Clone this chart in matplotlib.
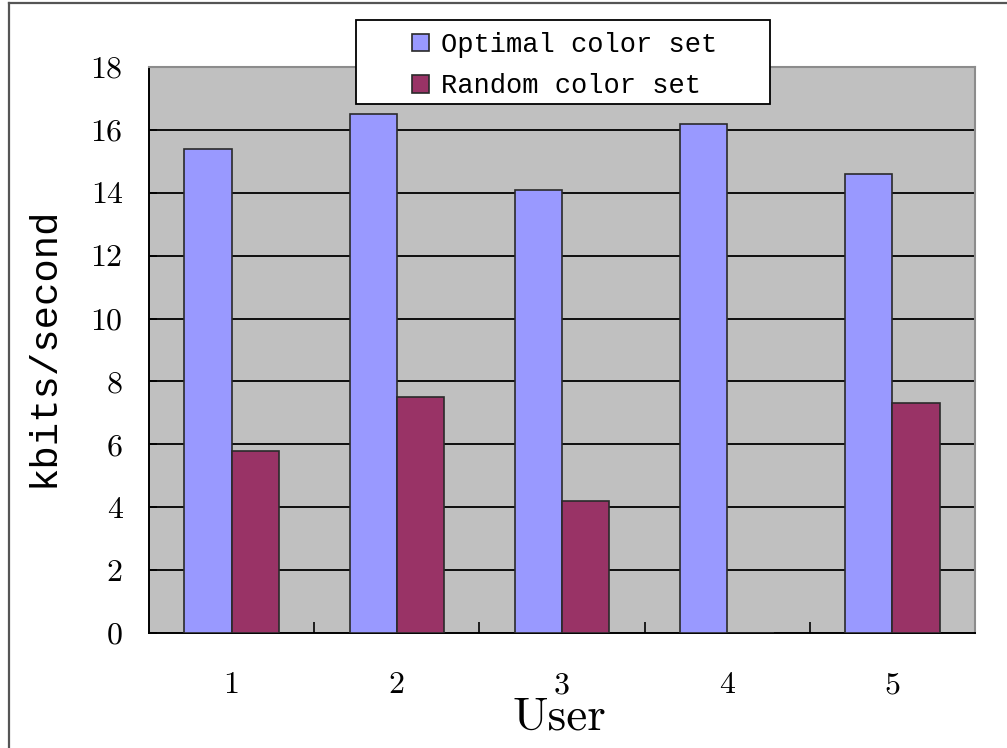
import matplotlib
matplotlib.use("Agg")
import matplotlib.pyplot as plt
import numpy as np
from matplotlib.lines import Line2D
from matplotlib.patches import Rectangle
from matplotlib.ticker import FixedLocator

users = ["1", "2", "3", "4", "5"]
optimal = [15.4, 16.5, 14.1, 16.2, 14.6]
random_set = [5.8, 7.5, 4.2, 0.0, 7.3]
series_names = ["Optimal color set", "Random color set"]
y_ticks = list(range(0, 20, 2))

BLUE = "#9999FF"
MAROON = "#993366"
PLOT_BG = "#C0C0C0"
EDGE = "#2a2a2a"

fig = plt.figure(figsize=(10.07, 7.48), dpi=100)
ax = fig.add_axes([149 / 1007, 1 - 633 / 748, 826 / 1007, 566 / 748])
ax.set_facecolor(PLOT_BG)

x = np.arange(len(users))
w = 1 / 3.5
b1 = ax.bar(x - w / 2, optimal, w, color=BLUE, edgecolor=EDGE, linewidth=1.2,
            label=series_names[0], zorder=3)
b2 = ax.bar(x + w / 2, random_set, w, color=MAROON, edgecolor=EDGE, linewidth=1.2,
            label=series_names[1], zorder=3)

ax.set_xlim(-0.5, len(users) - 0.5)
ax.set_ylim(y_ticks[0], y_ticks[-1])

# horizontal gridlines between the bottom and top of the plot area
ax.hlines(y_ticks[1:-1], -0.5, len(users) - 0.5, colors="black", linewidth=1.3, zorder=1)

ax.set_yticks(y_ticks)
ax.set_xticks(x)
ax.set_xticklabels(users)
ax.xaxis.set_minor_locator(FixedLocator(np.arange(0.5, len(users) - 0.5, 1.0)))

ax.tick_params(axis="both", which="major", labelsize=23, labelfontfamily="cmr10")
ax.tick_params(axis="x", which="major", length=0, pad=28)
ax.tick_params(axis="x", which="minor", direction="in", length=8, width=1.2, color="black")
ax.tick_params(axis="y", which="major", direction="in", length=6, width=1.2, pad=19)

for side in ("left", "bottom"):
    ax.spines[side].set_color("black")
    ax.spines[side].set_linewidth(1.4)
for side in ("top", "right"):
    ax.spines[side].set_color("#8c8c8c")
    ax.spines[side].set_linewidth(1.5)

ax.set_ylabel("kbits/second", fontfamily="Liberation Mono", fontsize=28)
ax.yaxis.set_label_coords((62 - 149) / 826, (633 - 347) / 566)
ax.set_xlabel("User", fontfamily="cmr10", fontsize=34)
ax.xaxis.set_label_coords((559 - 149) / 826, (633 - 697) / 566)

# legend box sitting over the top of the plot area
fig.add_artist(Rectangle((356 / 1007, 1 - 104 / 748), 414 / 1007, 84 / 748,
                         transform=fig.transFigure, facecolor="white",
                         edgecolor="black", linewidth=1.3, zorder=9))
leg = fig.legend(handles=[b1, b2], labels=series_names,
                 loc="upper left", bbox_to_anchor=(412 / 1007, 1 - 32 / 748),
                 frameon=False, prop=dict(family="Liberation Mono", size=19.5),
                 handlelength=0.63, handleheight=0.63, handletextpad=0.45,
                 borderpad=0, labelspacing=0.57, borderaxespad=0)
leg.set_zorder(10)

# outer frame of the chart
fig.add_artist(Line2D([9 / 1007, 9 / 1007], [0, 1 - 3 / 748], transform=fig.transFigure,
                      color="#555555", linewidth=1.6))
fig.add_artist(Line2D([9 / 1007, 1], [1 - 3 / 748, 1 - 3 / 748], transform=fig.transFigure,
                      color="#555555", linewidth=1.6))

fig.savefig("out.png", dpi=100)
